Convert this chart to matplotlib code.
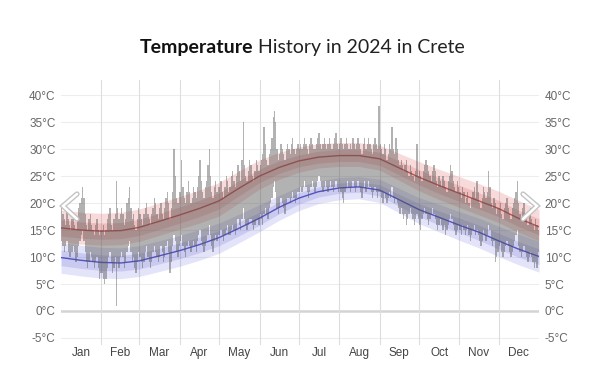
import numpy as np
import matplotlib.pyplot as plt
from matplotlib.lines import Line2D

# daily temperature range, 2024 (deg C)
jan_hi = [19, 18, 17, 16, 19, 17, 16, 15, 17, 18, 16, 15, 17, 19, 20, 21, 23, 21, 18, 16, 15, 17, 18, 16, 15, 14, 16, 17, 15, 14, 15]
jan_lo = [13, 12, 11, 12, 13, 11, 10, 10, 11, 12, 11, 9, 10, 12, 13, 14, 15, 13, 11, 9, 8, 9, 11, 10, 9, 8, 9, 10, 8, 6, 7]
feb_hi = [15, 16, 14, 15, 17, 18, 19, 16, 15, 17, 18, 24, 19, 17, 18, 19, 18, 16, 17, 20, 21, 23, 19, 17, 18, 16, 15, 17, 19]
feb_lo = [7, 6, 5, 6, 8, 10, 11, 9, 7, 8, 10, 1, 9, 8, 10, 11, 10, 8, 9, 11, 12, 13, 11, 9, 10, 8, 7, 9, 11]
mar_hi = [18, 17, 16, 18, 19, 20, 18, 17, 16, 18, 19, 21, 20, 18, 17, 19, 20, 18, 17, 19, 21, 22, 20, 17, 19, 22, 30, 25, 21, 20, 22]
mar_lo = [10, 9, 8, 9, 11, 12, 10, 9, 8, 9, 11, 12, 11, 10, 9, 10, 12, 11, 9, 10, 12, 13, 11, 7, 9, 12, 14, 13, 11, 10, 12]
apr_hi = [22, 28, 23, 21, 20, 22, 24, 22, 20, 21, 23, 22, 21, 23, 25, 28, 24, 22, 21, 23, 24, 27, 30, 25, 22, 21, 23, 24, 22, 23]
apr_lo = [13, 14, 12, 11, 10, 12, 13, 12, 11, 12, 13, 12, 11, 13, 14, 15, 13, 12, 11, 12, 13, 14, 16, 14, 12, 11, 13, 14, 13, 14]
may_hi = [23, 24, 22, 21, 23, 25, 24, 22, 23, 25, 26, 24, 23, 25, 27, 26, 24, 28, 35, 27, 25, 24, 26, 28, 27, 25, 24, 26, 28, 27, 26]
may_lo = [14, 15, 14, 13, 14, 15, 16, 14, 14, 15, 16, 15, 14, 15, 17, 16, 15, 17, 19, 17, 16, 15, 16, 17, 17, 16, 15, 16, 17, 17, 16]
jun_hi = [27, 28, 29, 34, 31, 28, 27, 29, 30, 32, 36, 37, 35, 30, 28, 29, 31, 30, 29, 28, 30, 31, 30, 29, 31, 32, 30, 29, 30, 31]
jun_lo = [18, 17, 16, 18, 19, 18, 17, 19, 20, 21, 23, 24, 22, 19, 18, 19, 21, 20, 19, 18, 20, 21, 21, 20, 21, 22, 21, 20, 21, 22]
jul_hi = [30, 31, 30, 31, 32, 31, 30, 29, 31, 32, 31, 30, 30, 31, 32, 33, 31, 30, 31, 32, 31, 30, 31, 32, 31, 30, 31, 32, 33, 31, 30]
jul_lo = [22, 23, 22, 23, 24, 23, 22, 21, 22, 23, 24, 23, 22, 23, 24, 25, 24, 23, 22, 23, 24, 23, 22, 23, 24, 23, 22, 23, 24, 23, 22]
aug_hi = [31, 32, 31, 30, 31, 32, 31, 30, 31, 30, 32, 31, 30, 31, 32, 31, 30, 29, 31, 32, 30, 31, 32, 31, 30, 29, 31, 32, 31, 30, 38]
aug_lo = [23, 22, 21, 20, 22, 23, 24, 23, 22, 23, 24, 23, 22, 23, 24, 23, 22, 21, 23, 24, 22, 23, 24, 23, 22, 21, 22, 23, 22, 21, 22]
sep_hi = [31, 30, 29, 31, 30, 28, 29, 31, 30, 34, 30, 29, 32, 30, 28, 27, 28, 27, 26, 27, 28, 26, 25, 27, 26, 25, 24, 26, 31, 25]
sep_lo = [22, 21, 20, 22, 21, 20, 21, 22, 21, 23, 21, 20, 21, 20, 19, 18, 19, 18, 17, 18, 16, 17, 18, 19, 18, 17, 16, 17, 18, 17]
oct_hi = [26, 25, 24, 26, 27, 28, 27, 26, 25, 24, 26, 27, 26, 24, 23, 25, 24, 23, 25, 24, 23, 22, 24, 25, 27, 26, 24, 23, 22, 24, 23]
oct_lo = [16, 15, 17, 18, 19, 18, 17, 16, 17, 18, 19, 18, 17, 16, 15, 16, 17, 16, 15, 16, 14, 15, 16, 17, 18, 17, 16, 15, 14, 15, 16]
nov_hi = [22, 21, 23, 22, 20, 21, 22, 20, 19, 21, 22, 23, 21, 24, 22, 20, 19, 21, 23, 22, 21, 22, 26, 23, 20, 19, 21, 20, 18, 19]
nov_lo = [15, 14, 16, 15, 14, 15, 16, 14, 13, 14, 15, 16, 14, 15, 14, 13, 12, 13, 15, 14, 13, 14, 16, 15, 13, 12, 13, 9, 10, 11]
dec_hi = [19, 20, 18, 17, 19, 20, 21, 19, 18, 17, 19, 20, 21, 22, 24, 20, 18, 17, 19, 20, 18, 17, 16, 18, 19, 17, 16, 15, 17, 16, 15]
dec_lo = [12, 13, 11, 10, 11, 12, 13, 12, 11, 10, 11, 12, 13, 14, 15, 12, 11, 10, 11, 12, 11, 10, 9, 10, 11, 10, 9, 8, 9, 8, 11]

# climatology (average high / low with 10-25-75-90 percentile bands)
clim_days = [0, 15, 31, 46, 60, 75, 91, 106, 121, 136, 152, 167, 182, 197, 213, 228, 244, 259, 274, 289, 305, 320, 335, 350, 366]
hi_avg = [15.4, 15.0, 14.8, 14.9, 15.5, 16.6, 17.8, 19.0, 20.4, 22.7, 25.0, 26.6, 27.8, 28.5, 28.8, 28.8, 28.2, 26.5, 24.8, 23.3, 21.8, 20.4, 19.0, 17.2, 15.6]
hi_p90 = [18.7, 18.3, 18.1, 18.3, 18.9, 20.0, 21.2, 22.4, 23.8, 25.9, 28.0, 29.4, 30.4, 31.0, 31.2, 31.2, 30.7, 29.2, 27.7, 26.3, 24.9, 23.6, 22.2, 20.5, 18.8]
hi_p75 = [16.9, 16.5, 16.3, 16.4, 17.0, 18.1, 19.3, 20.5, 21.9, 24.1, 26.3, 27.8, 28.9, 29.6, 29.9, 29.9, 29.4, 27.8, 26.2, 24.7, 23.3, 21.9, 20.5, 18.7, 17.1]
hi_p25 = [13.9, 13.5, 13.3, 13.4, 14.0, 15.1, 16.3, 17.5, 18.9, 21.3, 23.8, 25.5, 26.7, 27.4, 27.7, 27.7, 27.0, 25.2, 23.4, 21.8, 20.3, 18.9, 17.5, 15.7, 14.1]
hi_p10 = [12.8, 12.4, 12.2, 12.3, 12.9, 14.0, 15.2, 16.3, 17.6, 20.0, 22.6, 24.4, 25.7, 26.5, 26.8, 26.8, 26.1, 24.2, 22.3, 20.7, 19.2, 17.8, 16.4, 14.6, 13.0]
lo_avg = [9.9, 9.4, 9.0, 8.9, 9.3, 10.2, 11.2, 12.3, 13.6, 15.3, 17.2, 19.2, 20.9, 22.1, 22.8, 23.0, 22.4, 20.6, 18.8, 17.4, 15.9, 14.6, 13.0, 11.5, 10.1]
lo_p90 = [12.7, 12.2, 11.8, 11.7, 12.1, 13.0, 14.0, 15.1, 16.3, 17.9, 19.7, 21.4, 23.0, 24.1, 24.7, 24.9, 24.4, 22.7, 21.0, 19.8, 18.4, 17.2, 15.7, 14.3, 12.9]
lo_p75 = [11.3, 10.8, 10.4, 10.3, 10.7, 11.6, 12.6, 13.7, 14.9, 16.5, 18.3, 20.2, 21.9, 23.0, 23.7, 23.9, 23.4, 21.6, 19.9, 18.6, 17.2, 15.9, 14.4, 12.9, 11.5]
lo_p25 = [8.4, 7.9, 7.5, 7.4, 7.8, 8.7, 9.7, 10.8, 12.1, 13.9, 15.9, 18.0, 19.8, 21.1, 21.8, 22.0, 21.3, 19.4, 17.5, 16.0, 14.5, 13.1, 11.5, 10.0, 8.6]
lo_p10 = [7.0, 6.5, 6.1, 6.0, 6.4, 7.3, 8.3, 9.4, 10.7, 12.6, 14.7, 16.8, 18.6, 19.9, 20.6, 20.8, 20.1, 18.2, 16.2, 14.7, 13.1, 11.7, 10.1, 8.6, 7.2]

months = ["Jan", "Feb", "Mar", "Apr", "May", "Jun", "Jul", "Aug", "Sep", "Oct", "Nov", "Dec"]
month_starts = [0, 31, 60, 91, 121, 152, 182, 213, 244, 274, 305, 335, 366]
y_ticks = [-5, 0, 5, 10, 15, 20, 25, 30, 35, 40]

daily_hi = np.array(jan_hi + feb_hi + mar_hi + apr_hi + may_hi + jun_hi + jul_hi + aug_hi + sep_hi + oct_hi + nov_hi + dec_hi, dtype=float)
daily_lo = np.array(jan_lo + feb_lo + mar_lo + apr_lo + may_lo + jun_lo + jul_lo + aug_lo + sep_lo + oct_lo + nov_lo + dec_lo, dtype=float)
days = np.arange(len(daily_hi)) + 0.5

fig = plt.figure(figsize=(6, 3.78), dpi=100)
ax = fig.add_axes([61/600, 1 - 345/378, 478/600, 265/378])
ax.set_xlim(0, 366)
ax.set_ylim(-6.3, 42.8)

# grid
for t in y_ticks:
    if t == 0:
        ax.axhline(t, color='#d4d4d4', lw=1.8, zorder=0)
    else:
        ax.axhline(t, color='#ededed', lw=0.8, zorder=0)
for m in month_starts[1:-1]:
    ax.axvline(m, color='#dddddd', lw=0.8, zorder=0)

# bands
ax.fill_between(clim_days, hi_p10, hi_p90, color=(0.88, 0.35, 0.35), alpha=0.22, lw=0, zorder=1)
ax.fill_between(clim_days, hi_p25, hi_p75, color=(0.8, 0.3, 0.3), alpha=0.2, lw=0, zorder=1)
ax.fill_between(clim_days, lo_p10, lo_p90, color=(0.4, 0.4, 0.88), alpha=0.18, lw=0, zorder=1)
ax.fill_between(clim_days, lo_p25, lo_p75, color=(0.35, 0.35, 0.82), alpha=0.18, lw=0, zorder=1)
ax.plot(clim_days, hi_avg, color='#bb5050', lw=1, zorder=2)
ax.plot(clim_days, lo_avg, color='#5252c4', lw=1, zorder=2)

# daily bars
ax.bar(days, daily_hi - daily_lo, bottom=daily_lo, width=1.0, color='#555555', alpha=0.45, lw=0, zorder=3)

for s in ax.spines.values():
    s.set_visible(False)

mid = [(month_starts[i] + month_starts[i+1]) / 2 for i in range(12)]
ax.set_xticks(mid)
ax.set_xticklabels(months, fontsize=8.5, color='#444444', family='Liberation Sans')
ax.set_yticks(y_ticks)
ax.set_yticklabels([f"{t}°C" for t in y_ticks], fontsize=8.5, color='#666666', family='Liberation Sans')
ax.tick_params(axis='x', length=0, pad=1.5)
ax.tick_params(axis='y', length=0, pad=4, labelleft=True, labelright=True)

# navigation chevrons
for pts in ([(77, 194), (63, 206), (77, 219)], [(523, 194), (537, 206), (523, 219)]):
    xs = [p[0] / 600 for p in pts]
    ys = [1 - p[1] / 378 for p in pts]
    fig.add_artist(Line2D(xs, ys, color='#c4c4c4', lw=3.8, solid_capstyle='round', solid_joinstyle='miter', zorder=10))
    fig.add_artist(Line2D(xs, ys, color='white', lw=1.8, solid_capstyle='round', solid_joinstyle='miter', zorder=11))

# title with bold first word
ty = 1 - 52.5 / 378
t1 = fig.text(0, ty, "Temperature", fontsize=14, weight='bold', family='Lato', color='#111111', va='baseline')
t2 = fig.text(0, ty, " History in 2024 in Crete", fontsize=14, family='Lato', color='#222222', va='baseline')
fig.canvas.draw()
r = fig.canvas.get_renderer()
w1 = t1.get_window_extent(r).width
w2 = t2.get_window_extent(r).width
x0 = (302 - (w1 + w2) / 2) / 600
t1.set_x(x0)
t2.set_x(x0 + w1 / 600)

fig.savefig("out.png", dpi=100)
